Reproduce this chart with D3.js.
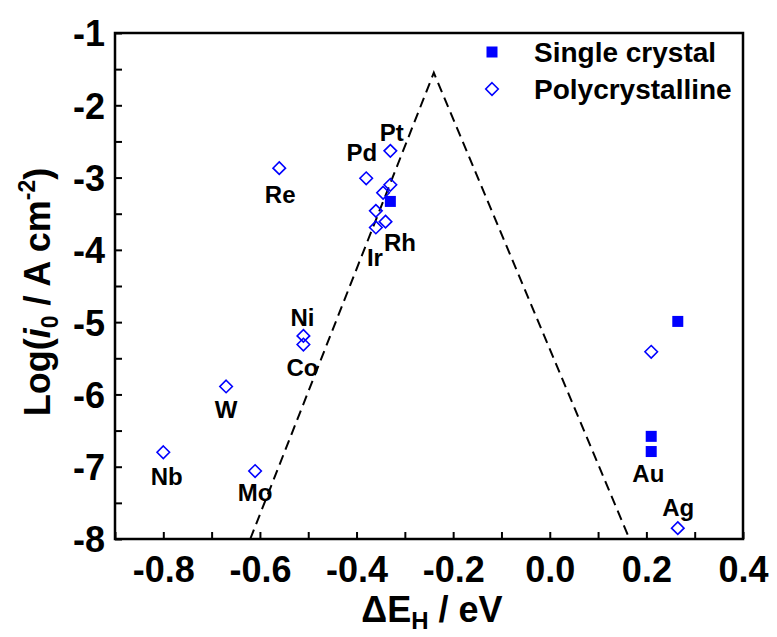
<!DOCTYPE html>
<html>
<head>
<meta charset="utf-8">
<script src="https://cdn.jsdelivr.net/npm/d3@7"></script>
<style>
  html, body { margin: 0; padding: 0; background: #fff; }
  svg { display: block; }
  text { font-family: Arial, "Liberation Sans", sans-serif; font-weight: bold; fill: #000; }
</style>
</head>
<body>
<svg id="chart" width="777" height="637"></svg>
<script>
// Hydrogen adsorption energy (eV) vs. log exchange current density
const singleE    = [-0.33, 0.265, 0.21, 0.21];
const singleLogI = [-3.33, -4.99, -6.58, -6.79];

const polyE    = [-0.80, -0.67, -0.61, -0.51, -0.51, -0.56, -0.38, -0.33, -0.33, -0.345, -0.36, -0.34, -0.36, 0.21, 0.265];
const polyLogI = [-6.80, -5.89, -7.06, -5.19, -5.31, -2.87, -3.01, -2.63, -3.10, -3.21, -3.46, -3.61, -3.69, -5.41, -7.85];

// volcano guide line
const volcanoE    = [-0.62, -0.24, 0.165];
const volcanoLogI = [-8, -1.55, -8];

// metal names and where they sit in data units
const metalNames = ["Nb", "W", "Mo", "Ni", "Co", "Re", "Pd", "Pt", "Rh", "Ir", "Au", "Ag"];
const metalE     = [-0.793, -0.670, -0.610, -0.512, -0.512, -0.558, -0.389, -0.327, -0.310, -0.362, 0.204, 0.266];
const metalLogI  = [-7.13, -6.21, -7.36, -4.94, -5.62, -3.23, -2.65, -2.37, -3.90, -4.10, -7.09, -7.56];

const xTicks = [-0.8, -0.6, -0.4, -0.2, 0.0, 0.2, 0.4];
const yTicks = [-8, -7, -6, -5, -4, -3, -2, -1];
const legendLabels = ["Single crystal", "Polycrystalline"];

const svg = d3.select("#chart");
const plotL = 115, plotR = 743, plotT = 33, plotB = 539;
const blue = "#0000ff";

const x = d3.scaleLinear().domain([-0.9, 0.4]).range([plotL, plotR]);
const y = d3.scaleLinear().domain([-8, -1]).range([plotB, plotT]);

// minor ticks (inward, no labels)
const xMinor = d3.range(-0.9, 0.401, 0.1).map(v => +v.toFixed(2));
const yMinor = d3.range(-8, -0.99, 0.5);

svg.append("g")
  .attr("transform", `translate(0,${plotB})`)
  .call(d3.axisBottom(x).tickValues(xMinor).tickSize(-7).tickFormat(""))
  .call(g => g.select(".domain").remove())
  .call(g => g.selectAll("line").attr("stroke", "#000").attr("stroke-width", 2));

svg.append("g")
  .attr("transform", `translate(${plotL},0)`)
  .call(d3.axisLeft(y).tickValues(yMinor).tickSize(-7).tickFormat(""))
  .call(g => g.select(".domain").remove())
  .call(g => g.selectAll("line").attr("stroke", "#000").attr("stroke-width", 2));

// labelled axes
svg.append("g")
  .attr("transform", `translate(0,${plotB})`)
  .call(d3.axisBottom(x).tickValues(xTicks).tickSize(0).tickPadding(17)
        .tickFormat(d => d3.format(".1f")(d).replace("\u2212", "-")))
  .call(g => g.select(".domain").remove())
  .call(g => g.selectAll("text").attr("font-size", 36).attr("dy", "0.71em")
        .style("font-family", "Arial, 'Liberation Sans', sans-serif").style("font-weight", "bold"));

svg.append("g")
  .attr("transform", `translate(${plotL},0)`)
  .call(d3.axisLeft(y).tickValues(yTicks).tickSize(0).tickPadding(10)
        .tickFormat(d => String(d)))
  .call(g => g.select(".domain").remove())
  .call(g => g.selectAll("text").attr("font-size", 36).attr("dy", "0.36em")
        .style("font-family", "Arial, 'Liberation Sans', sans-serif").style("font-weight", "bold"));

// plot frame
svg.append("rect")
  .attr("x", plotL).attr("y", plotT)
  .attr("width", plotR - plotL).attr("height", plotB - plotT)
  .attr("fill", "none").attr("stroke", "#000").attr("stroke-width", 2.5);

// volcano dashed line
svg.append("path")
  .datum(d3.zip(volcanoE, volcanoLogI))
  .attr("d", d3.line().x(d => x(d[0])).y(d => y(d[1])))
  .attr("fill", "none").attr("stroke", "#000").attr("stroke-width", 2)
  .attr("stroke-dasharray", "10,6");

// polycrystalline: open diamonds
const diamond = d3.symbol().type(d3.symbolDiamond2).size(100);
svg.append("g").selectAll("path")
  .data(d3.zip(polyE, polyLogI))
  .join("path")
  .attr("d", diamond)
  .attr("transform", d => `translate(${x(d[0])},${y(d[1])})`)
  .attr("fill", "none").attr("stroke", blue).attr("stroke-width", 1.6);

// single crystal: filled squares
const sq = 11;
svg.append("g").selectAll("rect")
  .data(d3.zip(singleE, singleLogI))
  .join("rect")
  .attr("x", d => x(d[0]) - sq / 2).attr("y", d => y(d[1]) - sq / 2)
  .attr("width", sq).attr("height", sq)
  .attr("fill", blue);

// metal labels
svg.append("g").selectAll("text")
  .data(metalNames)
  .join("text")
  .attr("x", (d, i) => x(metalE[i]))
  .attr("y", (d, i) => y(metalLogI[i]))
  .attr("dy", "0.36em")
  .attr("text-anchor", "middle")
  .attr("font-size", 24)
  .text(d => d);

// legend
const lg = svg.append("g");
lg.append("rect").attr("x", 492 - sq / 2).attr("y", 52 - sq / 2)
  .attr("width", sq).attr("height", sq).attr("fill", blue);
lg.append("path").attr("d", diamond).attr("transform", "translate(492,89)")
  .attr("fill", "none").attr("stroke", blue).attr("stroke-width", 1.6);
lg.selectAll("text").data(legendLabels).join("text")
  .attr("x", 534).attr("y", (d, i) => 52 + i * 37).attr("dy", "0.36em")
  .attr("font-size", 28).text(d => d);

// axis titles
const xt = svg.append("text")
  .attr("x", 432).attr("y", 622).attr("text-anchor", "middle").attr("font-size", 36);
xt.append("tspan").text("\u0394E");
xt.append("tspan").attr("font-size", 24).attr("dy", 7).text("H");
xt.append("tspan").attr("dy", -7).text(" / eV");

const yt = svg.append("text")
  .attr("transform", "translate(50,292) rotate(-90)")
  .attr("text-anchor", "middle").attr("font-size", 36);
yt.append("tspan").text("Log(");
yt.append("tspan").attr("font-style", "italic").text("i");
yt.append("tspan").attr("font-size", 23).attr("dy", 8).text("0");
yt.append("tspan").attr("dy", -8).text(" / A cm");
yt.append("tspan").attr("font-size", 23).attr("dy", -15).text("-2");
yt.append("tspan").attr("dy", 15).text(")");
</script>
</body>
</html>
